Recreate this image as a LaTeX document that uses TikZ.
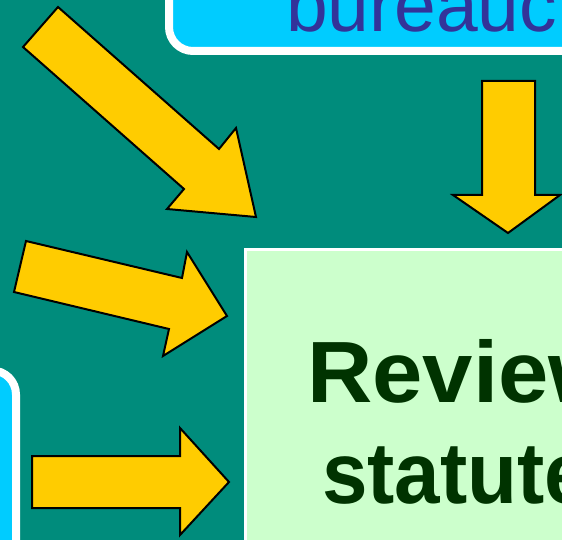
\documentclass[tikz,border=0pt]{standalone}
\usepackage{fontspec}
\setmainfont{Liberation Sans}
\definecolor{bgteal}{RGB}{0,140,124}
\definecolor{panelcyan}{RGB}{0,204,255}
\definecolor{arrowyellow}{RGB}{255,204,0}
\definecolor{boxgreen}{RGB}{204,255,204}
\definecolor{textgreen}{RGB}{0,51,0}
\definecolor{textblue}{RGB}{51,51,153}
\begin{document}
\begin{tikzpicture}[x=1pt,y=-1pt,
  arrowshape/.style={fill=arrowyellow,draw=black,line width=2pt,line join=miter},
  cyanpanel/.style={fill=panelcyan,draw=white,line width=8pt,rounded corners=24pt},
  greenpanel/.style={fill=boxgreen,draw=white,line width=3pt},
  bluetext/.style={anchor=base west,inner sep=0pt,text=textblue,font=\fontsize{75}{80}\selectfont},
  greentext/.style={anchor=base west,inner sep=0pt,text=textgreen,font=\fontsize{87}{100}\selectfont\bfseries}]
\useasboundingbox (0,0) rectangle (562,540);
\clip (0,0) rectangle (562,540);
\fill[bgteal] (0,0) rectangle (562,540);
% top cyan panel
\draw[cyanpanel] (169,-80) rectangle (640,51);
\node[bluetext] (top) at (286,32) {bureauc};
% left cyan panel
\draw[cyanpanel] (-120,370.5) rectangle (16,640);
% green box
\draw[greenpanel] (245.5,249.5) rectangle (640,640);
\node[greentext] (l1) at (307,402) {\scalebox{1.04}[1]{Review}};
\node[greentext] (l2) at (322,503) {\scalebox{0.94}[1]{statute}};
% arrows
\draw[arrowshape] (58,7) -- (23,47) -- (184,189) -- (167,209) -- (256,217) -- (236,128) -- (219,149) -- cycle;
\draw[arrowshape] (26,241) -- (14,292) -- (169,329) -- (163,356) -- (227,316) -- (187,252) -- (182,278) -- cycle;
\draw[arrowshape] (32,456) -- (32,508) -- (180,508) -- (180,535) -- (229,482) -- (180,428) -- (180,456) -- cycle;
\draw[arrowshape] (482,81) -- (535,81) -- (535,195) -- (560,195) -- (508,233) -- (453,195) -- (482,195) -- cycle;
\end{tikzpicture}
\end{document}
